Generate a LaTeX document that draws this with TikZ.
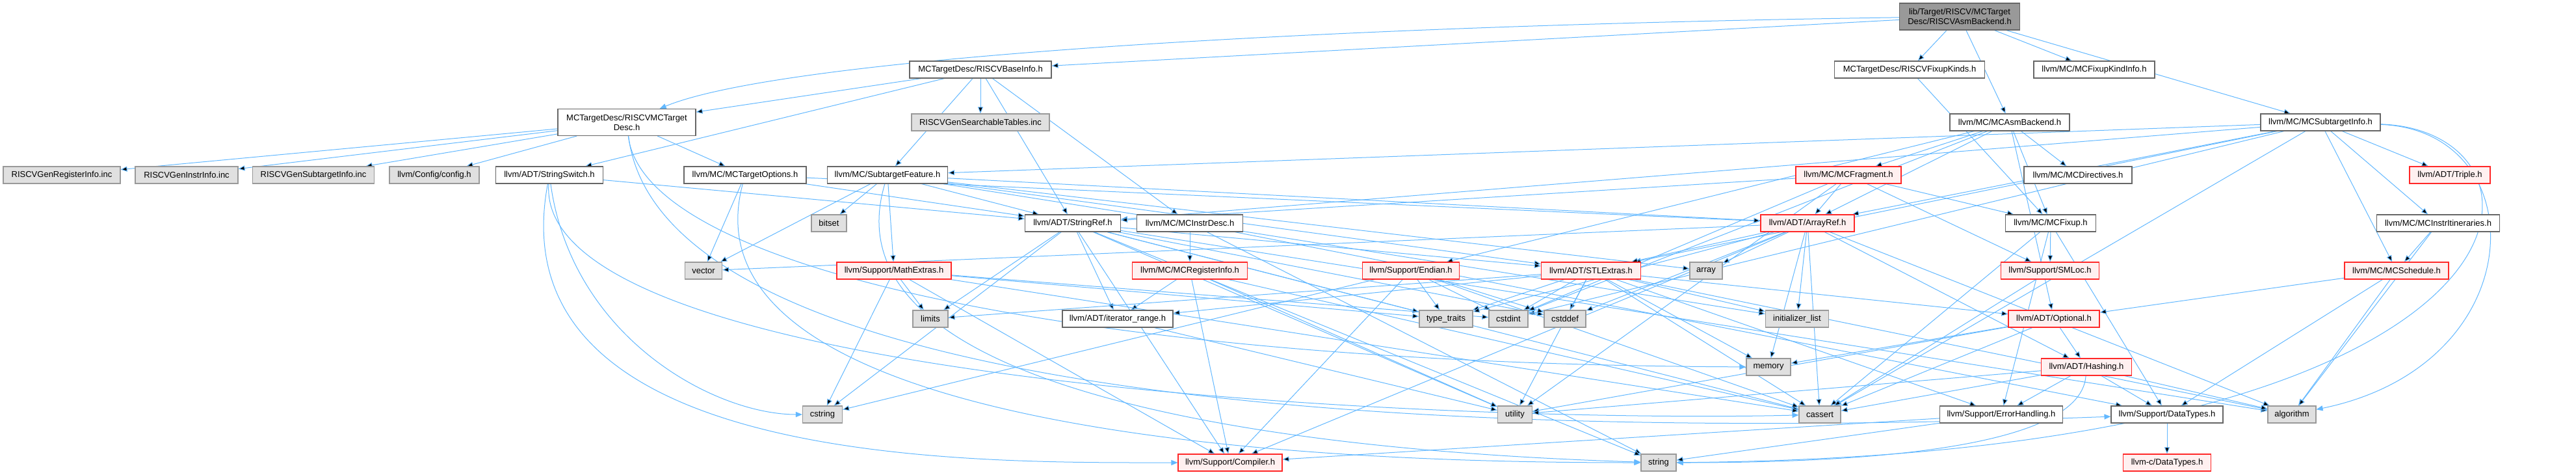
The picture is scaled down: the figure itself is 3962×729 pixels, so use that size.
\documentclass[tikz,border=0pt]{standalone}
\usepackage{fontspec}
\setmainfont{Liberation Sans}
\usetikzlibrary{arrows.meta,backgrounds}
\definecolor{edgeC}{RGB}{99,184,255}
\definecolor{rootF}{RGB}{153,153,153}
\definecolor{rootL}{RGB}{102,102,102}
\definecolor{hdrL}{RGB}{102,102,102}
\definecolor{sysF}{RGB}{224,224,224}
\definecolor{sysL}{RGB}{153,153,153}
\definecolor{trF}{RGB}{255,240,240}
\definecolor{trL}{RGB}{255,40,40}

\begin{document}
\begin{tikzpicture}[
  x=1pt, y=-1pt,
  font=\fontsize{13}{15}\selectfont,
  file/.style={rectangle, line width=1.1pt, minimum height=26pt, inner sep=2pt, align=center},
  root/.style={file, fill=rootF, draw=rootL, minimum height=41pt},
  hdr/.style={file, fill=white, draw=hdrL},
  sys/.style={file, fill=sysF, draw=sysL},
  trunc/.style={file, fill=trF, draw=trL},
  dep/.style={-{Triangle[length=10pt,width=8pt]}, draw=edgeC, line width=1pt},
]
\useasboundingbox (0,0) rectangle (3962,729);

% ---------- nodes ----------
\node[root, minimum width=185pt] (asmbk) at (3014,25.5) {lib/Target/RISCV/MCTarget\\Desc/RISCVAsmBackend.h};

\node[hdr, minimum width=218pt] (baseinfo) at (1508,107) {MCTargetDesc/RISCVBaseInfo.h};
\node[hdr, minimum width=231pt] (fixkinds) at (2937,107) {MCTargetDesc/RISCVFixupKinds.h};
\node[hdr, minimum width=186pt] (fixkindinfo) at (3221,107) {llvm/MC/MCFixupKindInfo.h};

\node[hdr, minimum width=212pt, minimum height=41pt] (mctd) at (964,188) {MCTargetDesc/RISCVMCTarget\\Desc.h};
\node[sys, minimum width=212pt] (gentables) at (1508,188) {RISCVGenSearchableTables.inc};
\node[hdr, minimum width=184pt] (asmbackend) at (3091,188) {llvm/MC/MCAsmBackend.h};
\node[hdr, minimum width=184pt] (subtinfo) at (3569,188) {llvm/MC/MCSubtargetInfo.h};

\node[sys, minimum width=180pt] (genreg) at (95,269) {RISCVGenRegisterInfo.inc};
\node[sys, minimum width=158pt] (geninstr) at (287,269) {RISCVGenInstrInfo.inc};
\node[sys, minimum width=187pt] (gensubt) at (482,269) {RISCVGenSubtargetInfo.inc};
\node[sys, minimum width=138pt] (config) at (668,269) {llvm/Config/config.h};
\node[hdr, minimum width=165pt] (strswitch) at (845,269) {llvm/ADT/StringSwitch.h};
\node[hdr, minimum width=188pt] (tgtopts) at (1146,269) {llvm/MC/MCTargetOptions.h};
\node[hdr, minimum width=185pt] (subtfeat) at (1365,269) {llvm/MC/SubtargetFeature.h};
\node[trunc, minimum width=162pt] (fragment) at (2843,269) {llvm/MC/MCFragment.h};
\node[hdr, minimum width=166pt] (directives) at (3196,269) {llvm/MC/MCDirectives.h};
\node[trunc, minimum width=124pt] (triple) at (3768,269) {llvm/ADT/Triple.h};

\node[sys, minimum width=54pt] (bitset) at (1275,343) {bitset};
\node[hdr, minimum width=147pt] (strref) at (1650,343) {llvm/ADT/StringRef.h};
\node[hdr, minimum width=163pt] (instrdesc) at (1830,343) {llvm/MC/MCInstrDesc.h};
\node[trunc, minimum width=144pt] (arrayref) at (2780,343) {llvm/ADT/ArrayRef.h};
\node[hdr, minimum width=139pt] (fixup) at (3154,343) {llvm/MC/MCFixup.h};
\node[hdr, minimum width=189pt] (itins) at (3750,343) {llvm/MC/MCInstrItineraries.h};

\node[sys, minimum width=57pt] (vector) at (1082,416) {vector};
\node[trunc, minimum width=176pt] (mathext) at (1375,416) {llvm/Support/MathExtras.h};
\node[trunc, minimum width=177pt] (reginfo) at (1830,416) {llvm/MC/MCRegisterInfo.h};
\node[trunc, minimum width=149pt] (endian) at (2170,416) {llvm/Support/Endian.h};
\node[trunc, minimum width=153pt] (stlext) at (2447,416) {llvm/ADT/STLExtras.h};
\node[sys, minimum width=50pt] (array) at (2624,416) {array};
\node[trunc, minimum width=151pt] (smloc) at (3153,416) {llvm/Support/SMLoc.h};
\node[trunc, minimum width=160pt] (sched) at (3686,416) {llvm/MC/MCSchedule.h};

\node[sys, minimum width=54pt] (limits) at (1431,490) {limits};
\node[hdr, minimum width=170pt] (itrange) at (1719,490) {llvm/ADT/iterator\_range.h};
\node[sys, minimum width=82pt] (typetr) at (2224,490) {type\_traits};
\node[sys, minimum width=60pt] (cstdint) at (2320,490) {cstdint};
\node[sys, minimum width=64pt] (cstddef) at (2407,490) {cstddef};
\node[sys, minimum width=97pt] (initlist) at (2764,490) {initializer\_list};
\node[trunc, minimum width=140pt] (optional) at (3159,490) {llvm/ADT/Optional.h};

\node[sys, minimum width=68pt] (memory) at (2720,564) {memory};
\node[trunc, minimum width=139pt] (hashing) at (3209,564) {llvm/ADT/Hashing.h};

\node[sys, minimum width=61pt] (cstring) at (1265,637) {cstring};
\node[sys, minimum width=53pt] (utility) at (2330,637) {utility};
\node[sys, minimum width=64pt] (cassert) at (2799,637) {cassert};
\node[hdr, minimum width=189pt] (errh) at (3078,637) {llvm/Support/ErrorHandling.h};
\node[hdr, minimum width=172pt] (dtypes) at (3333,637) {llvm/Support/DataTypes.h};
\node[sys, minimum width=74pt] (algo) at (3525,637) {algorithm};

\node[trunc, minimum width=160pt] (compiler) at (1892,711) {llvm/Support/Compiler.h};
\node[sys, minimum width=54pt] (string) at (2551,711) {string};
\node[trunc, minimum width=135pt] (cdtypes) at (3333,711) {llvm-c/DataTypes.h};

% ---------- includes ----------
\begin{scope}[on background layer]
\draw[dep] (asmbk) edge (baseinfo) edge (fixkinds) edge (asmbackend) edge (fixkindinfo) edge (subtinfo);
\draw[dep] (asmbk) .. controls (2000,40) and (1200,90) .. (mctd);
\draw[dep] (baseinfo) edge (mctd) edge (strref) edge (strswitch) edge (instrdesc) edge (subtfeat) edge (gentables);
\draw[dep] (mctd) edge (genreg) edge (geninstr) edge (gensubt) edge (config) edge (tgtopts);
\draw[dep] (mctd) .. controls (1010,560) and (1900,690) .. (dtypes);
\draw[dep] (mctd) .. controls (990,420) and (1700,560) .. (memory);
\draw[dep] (fixkinds) edge (fixup);
\draw[dep] (asmbackend) edge (arrayref) edge (optional) edge (directives) edge (fixup) edge (fragment) edge (endian) edge (cstdint);
\draw[dep] (subtinfo) edge (arrayref) edge (stlext) edge (strref) edge (triple) edge (itins) edge (sched) edge (subtfeat) edge (cassert) edge (cstdint);
\draw[dep] (subtinfo) .. controls (3900,200) and (3900,560) .. (algo);
\draw[dep] (subtinfo) .. controls (3955,200) and (3955,700) .. (string);
\draw[dep] (strswitch) edge (strref);
\draw[dep] (strswitch) .. controls (760,720) and (1500,711) .. (compiler);
\draw[dep] (strswitch) .. controls (820,600) and (2300,650) .. (cassert);
\draw[dep] (strswitch) .. controls (880,520) and (1100,637) .. (cstring);
\draw[dep] (tgtopts) edge (arrayref) edge (strref) edge (vector);
\draw[dep] (tgtopts) .. controls (1030,700) and (2200,711) .. (string);
\draw[dep] (subtfeat) edge (arrayref) edge (stlext) edge (strref) edge (mathext) edge (array) edge (bitset) edge (initlist) edge (vector);
\draw[dep] (subtfeat) .. controls (1250,650) and (2200,700) .. (string);
\draw[dep] (instrdesc) edge (reginfo) edge (dtypes) edge (string);
\draw[dep] (strref) edge (stlext) edge (itrange) edge (compiler) edge (algo) edge (cassert) edge (cstddef) edge (cstring) edge (limits) edge (string) edge (typetr) edge (utility);
\draw[dep] (itrange) edge (utility);
\draw[dep] (reginfo) edge (itrange) edge (compiler) edge (cassert) edge (utility);
\draw[dep] (mathext) edge (limits) edge (cstring) edge (typetr) edge (cstdint) edge (cassert) edge (compiler);
\draw[dep] (endian) edge (cstring) edge (compiler) edge (cassert) edge (typetr) edge (cstdint) edge (cstddef);
\draw[dep] (stlext) edge (optional) edge (itrange) edge (errh) edge (algo) edge (cassert) edge (cstddef) edge (cstdint) edge (initlist) edge (limits) edge (memory) edge (typetr) edge (utility);
\draw[dep] (arrayref) edge (hashing) edge (stlext) edge (compiler) edge (algo) edge (array) edge (cassert) edge (cstddef) edge (initlist) edge (memory) edge (typetr) edge (vector);
\draw[dep] (fragment) edge (arrayref) edge (strref) edge (fixup) edge (smloc) edge (utility) edge (cstdint);
\draw[dep] (fixup) edge (smloc) edge (dtypes) edge (errh) edge (cassert);
\draw[dep] (smloc) edge (cassert);
\draw[dep] (optional) edge (hashing) edge (memory) edge (cassert) edge (utility);
\draw[dep] (hashing) edge (errh) edge (dtypes) edge (algo) edge (cassert) edge (utility);
\draw[dep] (hashing) .. controls (3200,700) and (2800,711) .. (string);
\draw[dep] (errh) edge (compiler) edge (string);
\draw[dep] (dtypes) edge (cdtypes);
\draw[dep] (sched) edge (optional) edge (dtypes) edge (algo);
\draw[dep] (itins) edge (sched) edge (algo);
\end{scope}

\end{tikzpicture}
\end{document}
